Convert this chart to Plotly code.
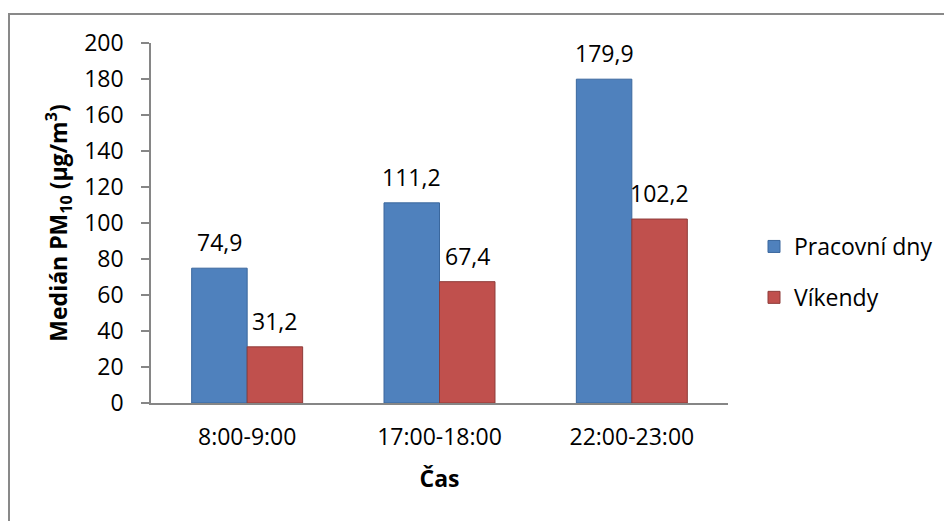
import plotly.graph_objects as go

# Hourly medians of PM10 concentration
categories = ["8:00-9:00", "17:00-18:00", "22:00-23:00"]
pracovni_dny = [74.9, 111.2, 179.9]
vikendy = [31.2, 67.4, 102.2]
y_ticks = [0, 20, 40, 60, 80, 100, 120, 140, 160, 180, 200]

FONT = "Open Sans"
FS = 23
AXIS_GRAY = "#868686"
BARGAP = 0.423


def fmt(v):
    return f"{v:.1f}".replace(".", ",")


fig = go.Figure()
fig.add_trace(go.Bar(
    name="Pracovní dny", x=categories, y=pracovni_dny,
    marker=dict(color="#4F81BD", line=dict(color="#3A679D", width=1)),
    legendgroup="a",
))
fig.add_trace(go.Bar(
    name="Víkendy", x=categories, y=vikendy,
    marker=dict(color="#C0504D", line=dict(color="#8E3B39", width=1)),
    legendgroup="b",
))

# value labels above each bar (offset = half of one bar's width in category units)
half = (1 - BARGAP) / 4
for i, cat in enumerate(categories):
    for val, off in ((pracovni_dny[i], -half), (vikendy[i], half)):
        fig.add_annotation(
            x=i + off, y=val, xref="x", yref="y", text=fmt(val),
            showarrow=False, yanchor="bottom", yshift=8,
            font=dict(family=FONT, size=FS, color="#000000"),
        )

# outer chart frame
fig.add_shape(
    type="rect", xref="paper", yref="paper",
    x0=(9 - 151) / 577, x1=1.6, y0=-0.5, y1=(403 - 14) / 360,
    line=dict(color="#898989", width=2), fillcolor="rgba(0,0,0,0)", layer="below",
)

fig.update_layout(
    width=944, height=521,
    margin=dict(l=151, r=216, t=43, b=118, autoexpand=False),
    paper_bgcolor="white", plot_bgcolor="white",
    barmode="group", bargap=BARGAP, bargroupgap=0,
    font=dict(family=FONT, size=FS, color="#000000"),
    showlegend=True,
    legend=dict(
        x=(754 - 151) / 577, xanchor="left", y=(403 - 272) / 360, yanchor="middle",
        font=dict(family=FONT, size=FS), tracegroupgap=18,
        bgcolor="rgba(0,0,0,0)",
    ),
    xaxis=dict(
        title=dict(text="<b>Čas</b>", font=dict(family=FONT, size=FS), standoff=20),
        showline=True, linecolor=AXIS_GRAY, linewidth=1.5,
        ticks="", showgrid=False, automargin=False, ticklabelstandoff=13,
    ),
    yaxis=dict(
        title=dict(text="<b>Medián PM<sub>10</sub> (µg/m<sup>3</sup>)</b>",
                   font=dict(family=FONT, size=FS), standoff=10),
        range=[0, 200], tickvals=y_ticks,
        showline=True, linecolor=AXIS_GRAY, linewidth=1.5,
        ticks="outside", ticklen=8, tickcolor=AXIS_GRAY, tickwidth=1.5,
        showgrid=False, zeroline=False, automargin=False, ticklabelstandoff=13,
    ),
)

fig.write_html("out.html")
